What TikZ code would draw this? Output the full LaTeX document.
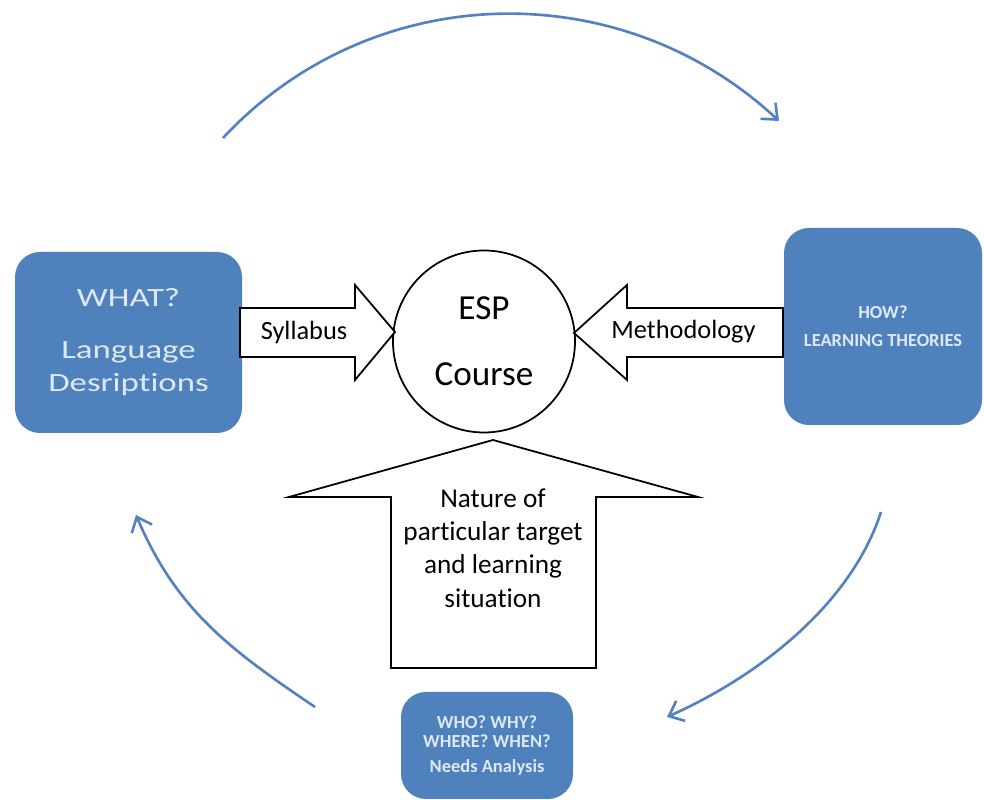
\documentclass[tikz,border=0pt]{standalone}
\usepackage{fontspec}
\setmainfont{Carlito}[Ligatures=NoCommon]
\newfontfamily\widefont[FakeStretch=1.32, Ligatures=NoCommon]{Carlito}
\usetikzlibrary{arrows.meta}

\definecolor{boxblue}{RGB}{79,129,189}
\definecolor{boxtext}{RGB}{222,232,244}
\definecolor{cycblue}{RGB}{84,130,192}

\begin{document}
\begin{tikzpicture}
[box/.style={rectangle, rounded corners=0.5cm, fill=boxblue, text=boxtext, align=center, inner sep=0pt},
 course/.style={circle, draw=black, line width=1pt, minimum size=3.64cm, inner sep=0pt, align=center},
 block/.style={draw=black, line width=1pt, fill=white, line join=miter},
 cyc/.style={draw=cycblue, line width=1.5pt, arrows={-Straight Barb[length=2.6mm, width=4.4mm]}}]
\useasboundingbox (0,0) rectangle (19.68,16);
% question boxes
\node[box, minimum width=4.54cm, minimum height=3.62cm,
      font={\widefont\fontsize{15}{18.8}\selectfont}] (what) at (2.57, 9.15)
      {WHAT?\\[10.8pt] Language\\ Desriptions};
\node[box, minimum width=3.96cm, minimum height=3.94cm,
      font={\bfseries\fontsize{10.5}{16}\selectfont}] (how) at (17.66, 9.47)
      {HOW?\\ LEARNING THEORIES};
\node[box, minimum width=3.44cm, minimum height=2.14cm,
      font={\bfseries\fontsize{10.5}{10.8}\selectfont}] (who) at (9.74, 1.09)
      {WHO? WHY?\\ WHERE? WHEN?\\[3.4pt] Needs Analysis};
% the course in the middle
\node[course, font={\fontsize{20}{24}\selectfont}] (esp) at (9.68, 9.17) {ESP\\[13.6pt] Course};
% block arrows
\draw[block] (4.80,9.84) -- (7.10,9.84) -- (7.10,10.30) -- (7.90,9.36)
  -- (7.10,8.40) -- (7.10,8.86) -- (4.80,8.86) -- cycle;
\draw[block] (15.66,9.84) -- (12.54,9.84) -- (12.54,10.30) -- (11.48,9.34)
  -- (12.54,8.40) -- (12.54,8.86) -- (15.66,8.86) -- cycle;
\draw[block] (9.86,7.20) -- (13.96,6.06) -- (11.92,6.06) -- (11.92,2.64)
  -- (7.82,2.64) -- (7.82,6.06) -- (5.78,6.06) -- cycle;
\node[font={\fontsize{15}{18}\selectfont}] (syl) at (6.08, 9.36) {Syllabus};
\node[font={\fontsize{15}{18}\selectfont}] (meth) at (13.67, 9.36) {Methodology};
\node[align=center, font={\fontsize{15.5}{19}\selectfont}] (nat) at (9.86, 5.04)
  {Nature of\\ particular target\\ and learning\\ situation};
% cycle arcs
\coordinate (c1) at (4.46,13.24);
\coordinate (c2) at (15.58,13.58);
\coordinate (c3) at (17.62,5.76);
\coordinate (c4) at (13.34,1.66);
\coordinate (c5) at (6.30,1.86);
\coordinate (c6) at (2.72,5.70);
\draw[cyc] (c1) to [out=47, in=137] (c2);
\draw[cyc] (c3) to [out=-108, in=24, looseness=0.85] (c4);
\draw[cyc] (c5) to [out=146, in=293] (c6);
\end{tikzpicture}
\end{document}
